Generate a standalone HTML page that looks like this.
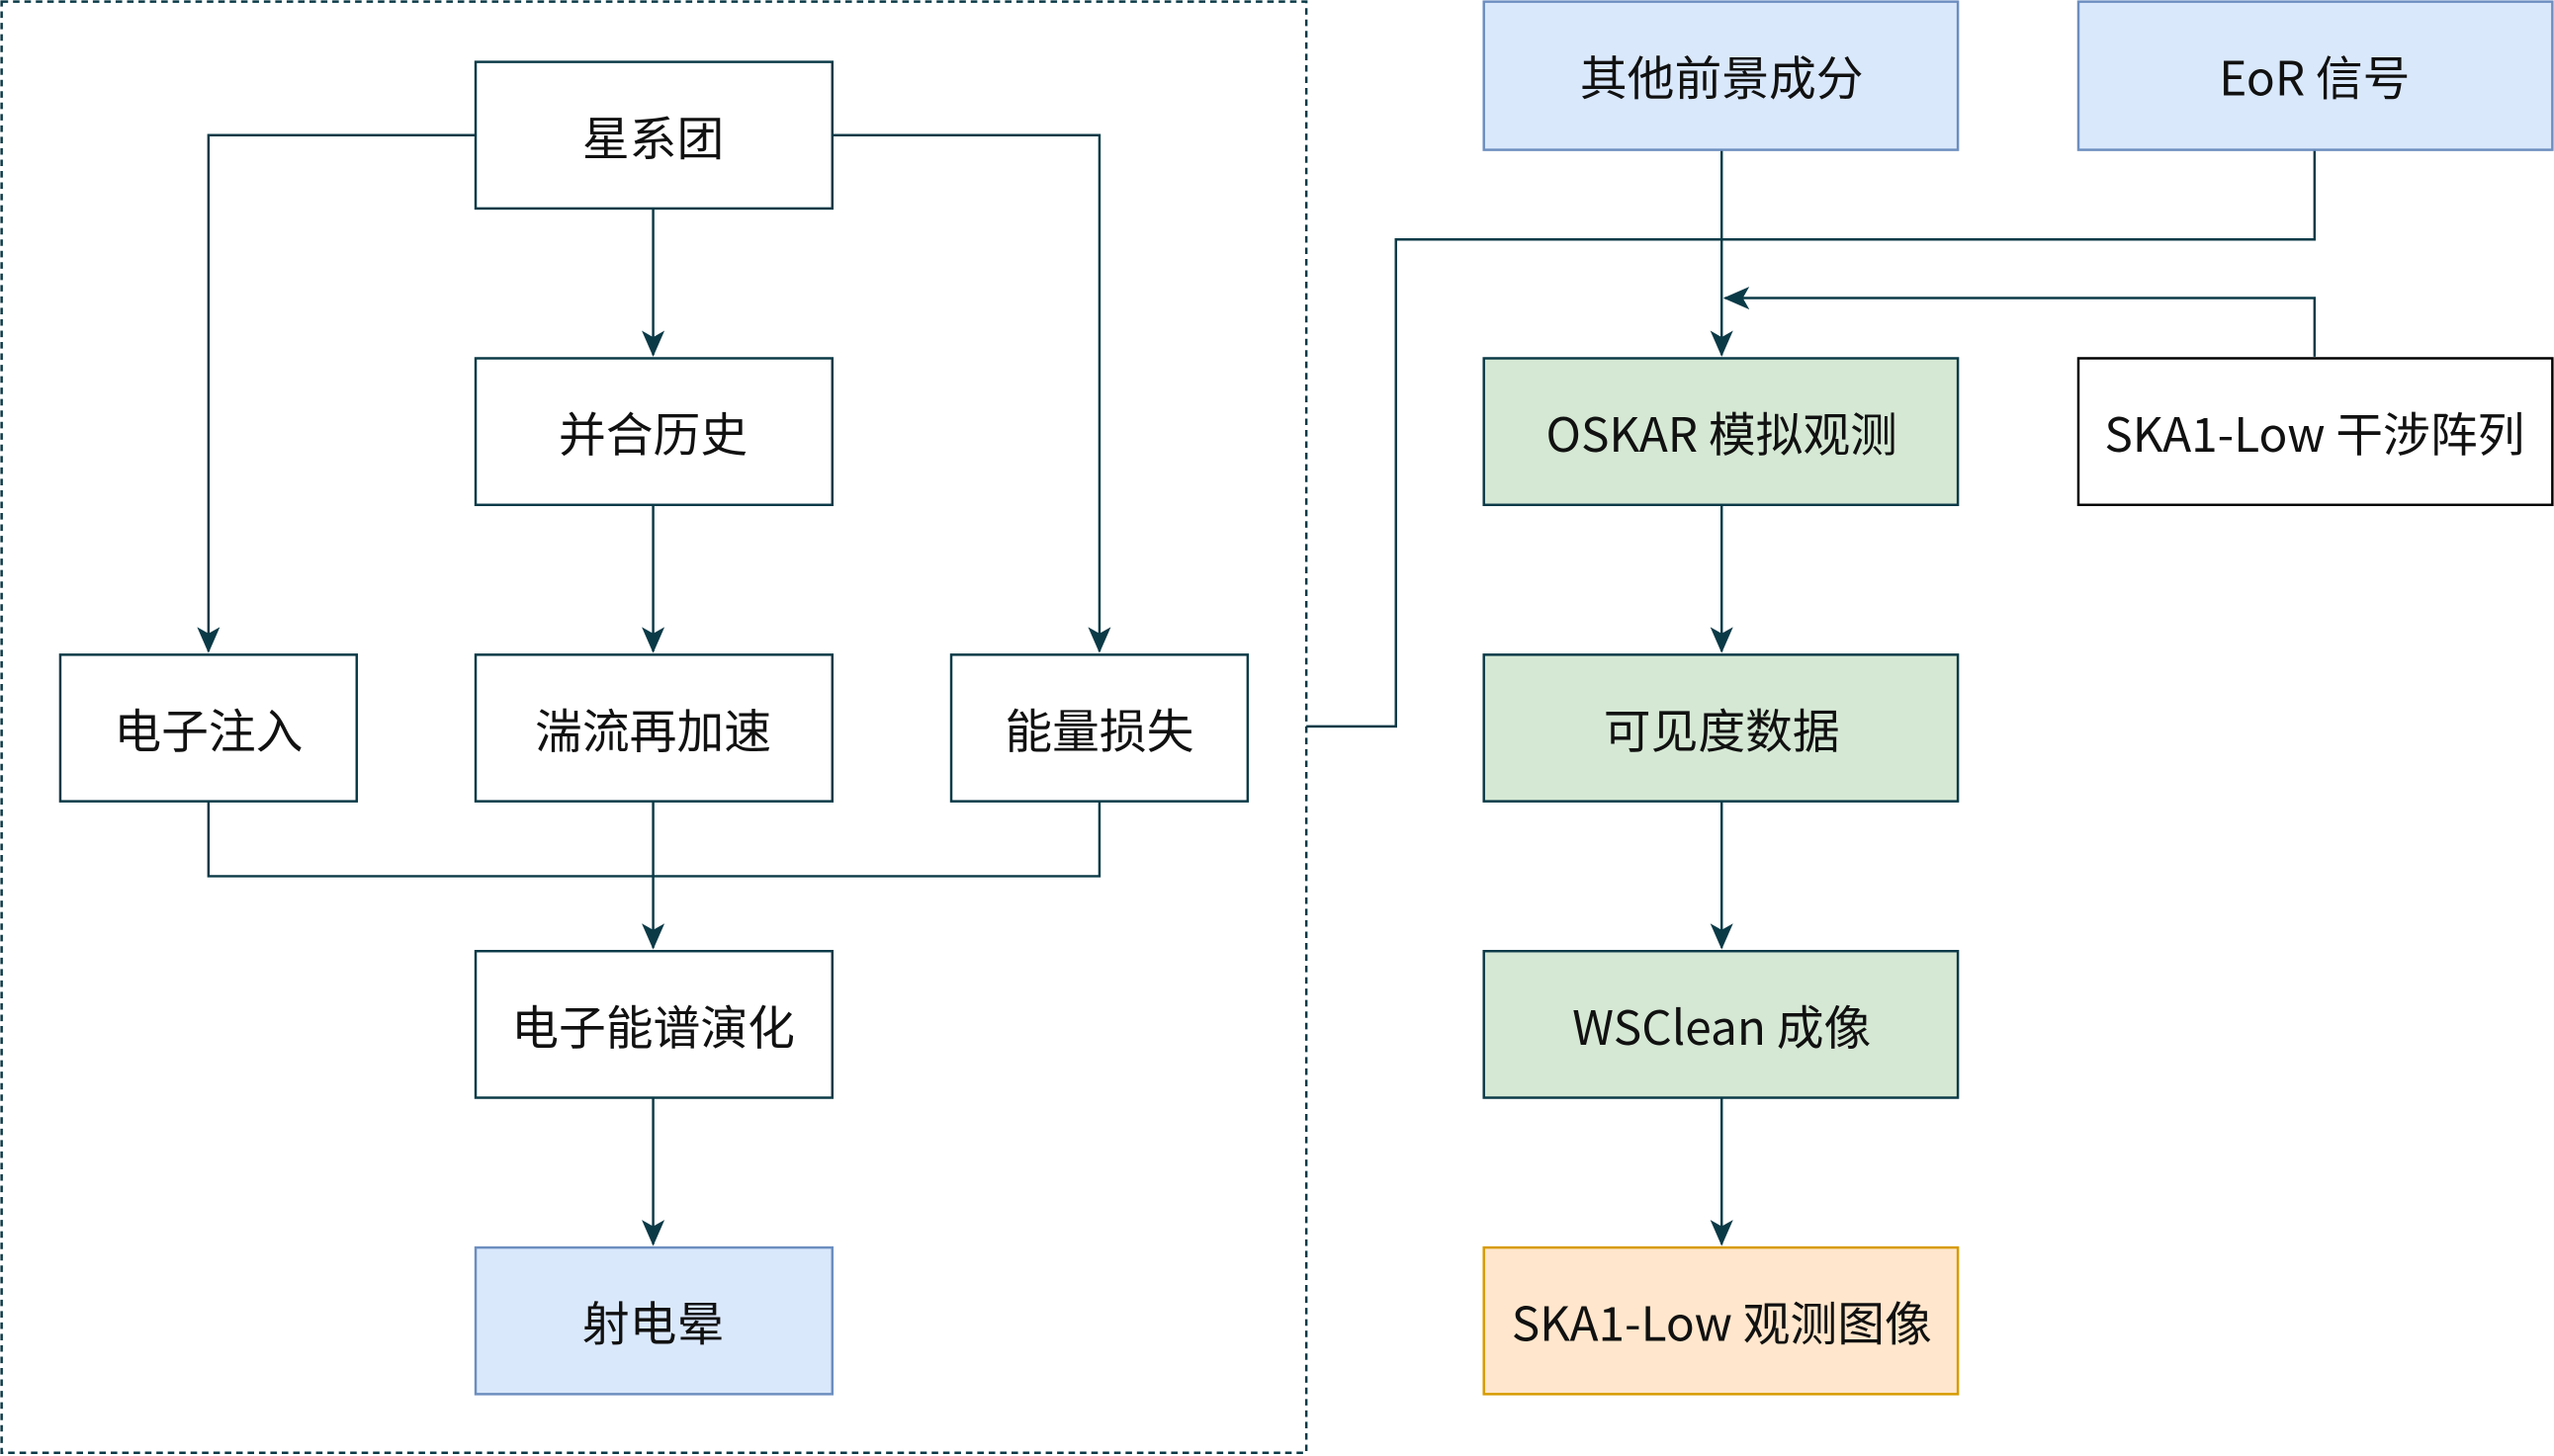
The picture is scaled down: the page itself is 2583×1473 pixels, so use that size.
<!DOCTYPE html>
<html><head><meta charset="utf-8"><style>html,body{margin:0;padding:0;background:#fff}svg{display:block}</style></head>
<body>
<svg width="2583" height="1473" viewBox="0 0 1568 894" preserveAspectRatio="none" xmlns="http://www.w3.org/2000/svg">
<defs>
<marker id="b" viewBox="0 0 16 16" refX="15" refY="8" markerWidth="16" markerHeight="16" markerUnits="userSpaceOnUse" orient="auto"><path d="M0,1 L16,8 L0,15 L4,8 Z" fill="#0b3a47"/></marker></defs>
<rect x="1" y="1" width="801" height="891" fill="none" stroke="#0b3a47" stroke-width="1.5" stroke-dasharray="4,3"/>
<g fill="none" stroke="#0b3a47" stroke-width="1.5">
<path d="M292,83 H128 V400" marker-end="url(#b)"/>
<path d="M401,128 V218" marker-end="url(#b)"/>
<path d="M511,83 H675 V400" marker-end="url(#b)"/>
<path d="M401,310 V400" marker-end="url(#b)"/>
<path d="M128,492 V538 H675 V492"/>
<path d="M401,492 V582" marker-end="url(#b)"/>
<path d="M401,674 V764" marker-end="url(#b)"/>
<path d="M802,446 H857 V147 H1421 V92"/>
<path d="M1057,92 V218" marker-end="url(#b)"/>
<path d="M1421,219 V183 H1059" marker-end="url(#b)"/>
<path d="M1057,310 V400" marker-end="url(#b)"/>
<path d="M1057,492 V582" marker-end="url(#b)"/>
<path d="M1057,674 V764" marker-end="url(#b)"/>
</g>
<g stroke-width="1.5">
<rect x="292" y="38" width="219" height="90" fill="#fff" stroke="#0b3a47"/>
<rect x="292" y="220" width="219" height="90" fill="#fff" stroke="#0b3a47"/>
<rect x="37" y="402" width="182" height="90" fill="#fff" stroke="#0b3a47"/>
<rect x="292" y="402" width="219" height="90" fill="#fff" stroke="#0b3a47"/>
<rect x="584" y="402" width="182" height="90" fill="#fff" stroke="#0b3a47"/>
<rect x="292" y="584" width="219" height="90" fill="#fff" stroke="#0b3a47"/>
<rect x="292" y="766" width="219" height="90" fill="#dae8fc" stroke="#6c8ebf"/>
<rect x="911" y="1" width="291" height="91" fill="#dae8fc" stroke="#6c8ebf"/>
<rect x="1276" y="1" width="291" height="91" fill="#dae8fc" stroke="#6c8ebf"/>
<rect x="911" y="220" width="291" height="90" fill="#d5e8d4" stroke="#0b3a47"/>
<rect x="1276" y="220" width="291" height="90" fill="#fff" stroke="#000"/>
<rect x="911" y="402" width="291" height="90" fill="#d5e8d4" stroke="#0b3a47"/>
<rect x="911" y="584" width="291" height="90" fill="#d5e8d4" stroke="#0b3a47"/>
<rect x="911" y="766" width="291" height="90" fill="#ffe6cc" stroke="#d79b00"/>
</g>
<g font-family="'Noto Sans CJK SC','Liberation Sans',sans-serif" font-size="29" fill="#111" text-anchor="middle" dominant-baseline="central">
<text x="401" y="83">星系团</text>
<text x="401" y="265">并合历史</text>
<text x="128" y="447">电子注入</text>
<text x="401" y="447">湍流再加速</text>
<text x="675" y="447">能量损失</text>
<text x="401" y="629">电子能谱演化</text>
<text x="401" y="811">射电晕</text>
<text x="1057" y="46">其他前景成分</text>
<text x="1421" y="46">EoR 信号</text>
<text x="1057" y="265">OSKAR 模拟观测</text>
<text x="1421" y="265">SKA1-Low 干涉阵列</text>
<text x="1057" y="447">可见度数据</text>
<text x="1057" y="629">WSClean 成像</text>
<text x="1057" y="811">SKA1-Low 观测图像</text>
</g>
</svg>
</body></html>
